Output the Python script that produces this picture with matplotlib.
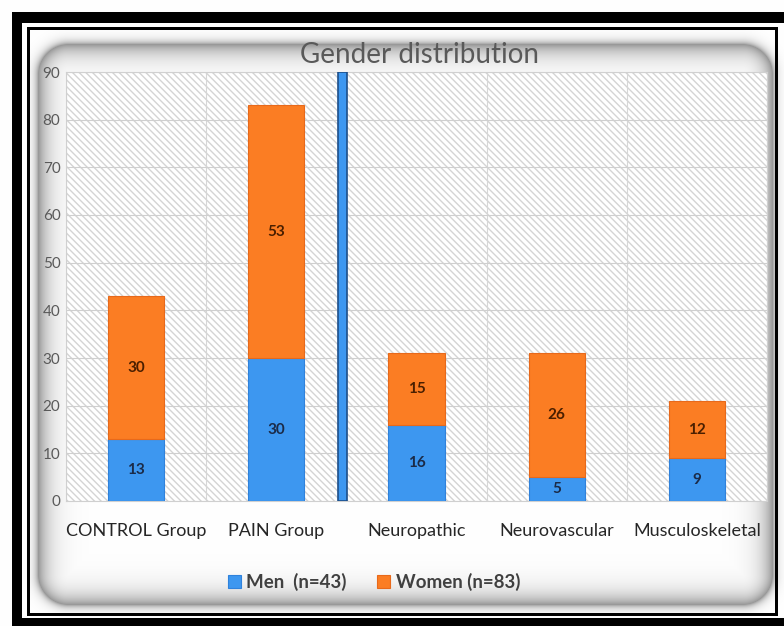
import numpy as np
import matplotlib
matplotlib.use("Agg")
import matplotlib.pyplot as plt
from matplotlib.patches import Rectangle

categories = ['CONTROL Group', 'PAIN Group', 'Neuropathic', 'Neurovascular', 'Musculoskeletal']
men = [13, 30, 16, 5, 9]
women = [30, 53, 15, 26, 12]
men_label = 'Men  (n=43)'
women_label = 'Women (n=83)'
title = 'Gender distribution'
y_ticks = [0, 10, 20, 30, 40, 50, 60, 70, 80, 90]

blue = '#3d97f0'
orange = '#fb7d23'

plt.rcParams['font.family'] = ['Lato', 'DejaVu Sans']
plt.rcParams['hatch.color'] = '#d4d4d4'
plt.rcParams['hatch.linewidth'] = 1.0

W, H = 784, 626
fig = plt.figure(figsize=(W / 100, H / 100), dpi=100)
fig.patch.set_facecolor('white')

def px(x, y):
    # pixel (from top-left) to figure fraction
    return x / W, 1 - y / H

# soft gray glow around the chart area
yy, xx = np.mgrid[0:H, 0:W].astype(float)
x0, x1, y0, y1, r = 38, 772, 44, 604, 30
cx, cy = (x0 + x1) / 2, (y0 + y1) / 2
qx = np.abs(xx - cx) - ((x1 - x0) / 2 - r)
qy = np.abs(yy - cy) - ((y1 - y0) / 2 - r)
d = np.hypot(np.maximum(qx, 0), np.maximum(qy, 0)) + np.minimum(np.maximum(qx, qy), 0) - r
s = np.where(d < 0, np.exp(d / 11.0), np.exp(-d / 4.0))
gray = 1 - 0.4 * s
img = np.dstack([gray, gray, gray])
fig.figimage(img, xo=0, yo=0, origin='upper', zorder=-1)

ax_l, ax_b = px(66, 501)
ax_r, ax_t = px(767, 72)
ax = fig.add_axes([ax_l, ax_b, ax_r - ax_l, ax_t - ax_b])
ax.set_facecolor('white')
ax.add_patch(Rectangle((0, 0), 1, 1, transform=ax.transAxes, facecolor='white',
                       edgecolor='#d4d4d4', linewidth=0, hatch='\\' * 5, zorder=0))

x = np.arange(len(categories))
b1 = ax.bar(x, men, width=0.4, color=blue, edgecolor='#2f82dc', linewidth=0.8, zorder=3, label=men_label)
b2 = ax.bar(x, women, width=0.4, bottom=men, color=orange, edgecolor='#e8691a', linewidth=0.8, zorder=3, label=women_label)

# separator between the pain group and its subgroups
ax.bar(1.472, y_ticks[-1], width=0.065, color=blue, edgecolor='#1d4f8a', linewidth=1.2, zorder=4)

for i in range(len(categories)):
    ax.text(x[i], men[i] / 2, str(men[i]), ha='center', va='center', fontsize=11,
            color='#1b2b48', fontweight='bold', zorder=5)
    ax.text(x[i], men[i] + women[i] / 2, str(women[i]), ha='center', va='center', fontsize=11,
            color='#4a1f00', fontweight='bold', zorder=5)

ax.set_xlim(-0.5, len(categories) - 0.5)
ax.set_ylim(0, y_ticks[-1])
ax.set_yticks(y_ticks)
ax.set_xticks(x)
ax.set_xticklabels(categories)
ax.set_xticks(np.arange(-0.5, len(categories), 1), minor=True)
ax.tick_params(axis='x', which='both', length=0, pad=16, labelsize=13, labelcolor='#262626')
ax.tick_params(axis='y', length=0, pad=4, labelsize=11, labelcolor='#595959')
ax.grid(True, axis='y', color='#cfcfcf', linewidth=0.8, zorder=1)
ax.grid(True, axis='x', which='minor', color='#d6d6d6', linewidth=0.8, zorder=1)
ax.grid(False, axis='x', which='major')
for sp in ax.spines.values():
    sp.set_color('#d0d0d0')
    sp.set_linewidth(0.8)

tx, ty = px(419, 55)
fig.text(tx, ty, title, ha='center', va='center', fontsize=20, color='#595959')

lx, ly = px(374, 582)
leg = fig.legend(handles=[b1, b2], labels=[men_label, women_label], loc='center',
                 bbox_to_anchor=(lx, ly), ncol=2, frameon=False, handlelength=0.7,
                 handleheight=0.7, handletextpad=0.3, columnspacing=1.6,
                 prop={'size': 13.5, 'weight': 'bold'})
for t in leg.get_texts():
    t.set_color('#404040')

# black border: thick outer bands (right one is cut off) and a thin inner frame
def band(xa, ya, xb, yb):
    fa, fb = px(xa, yb)
    fc, fd = px(xb, ya)
    fig.add_artist(Rectangle((fa, fb), fc - fa, fd - fb, transform=fig.transFigure,
                             facecolor='black', edgecolor='none', zorder=10))

band(12, 12, 784, 23)    # top
band(12, 12, 22, 626)    # left
band(12, 618, 784, 626)  # bottom
band(27, 27, 778, 30)    # inner top
band(27, 27, 30, 616)    # inner left
band(775, 27, 778, 616)  # inner right
band(27, 613, 778, 616)  # inner bottom

fig.savefig('out.png', dpi=100)
